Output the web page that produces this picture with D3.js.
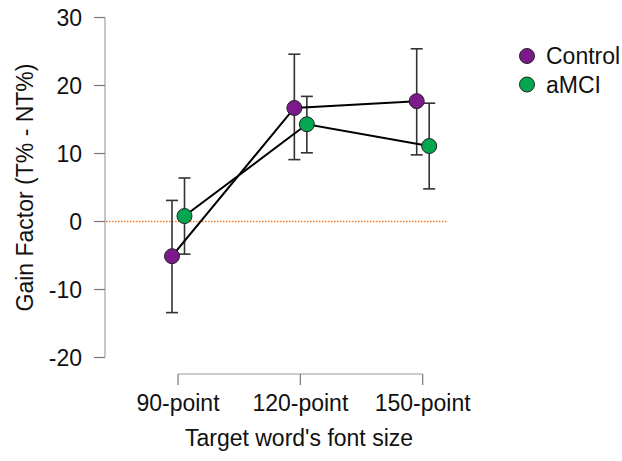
<!DOCTYPE html>
<html>
<head>
<meta charset="utf-8">
<script src="https://cdn.jsdelivr.net/npm/d3@7"></script>
<style>
  body { margin: 0; background: #fff; }
  text { font-family: "Liberation Sans", Arial, sans-serif; fill: #111; }
</style>
</head>
<body>
<div id="chart"></div>
<script>
// Taille du dessin
const width = 622;
const height = 461;

// Données
const categories = ["90-point", "120-point", "150-point"];
const groups = ["Control", "aMCI"];
const controlMean = [-5.1, 16.7, 17.7];
const controlLow = [-13.4, 9.1, 9.8];
const controlHigh = [3.1, 24.6, 25.4];
const amciMean = [0.8, 14.3, 11.1];
const amciLow = [-4.8, 10.1, 4.8];
const amciHigh = [6.4, 18.4, 17.4];
const yTicks = [-20, -10, 0, 10, 20, 30];
const colors = ["#7d1a8b", "#04a650"];

const series = [
  { name: groups[0], mean: controlMean, low: controlLow, high: controlHigh, color: colors[0], dx: -6 },
  { name: groups[1], mean: amciMean, low: amciLow, high: amciHigh, color: colors[1], dx: 6.5 }
];

const fontSize = "23px";

const svg = d3.select("#chart")
  .append("svg")
  .attr("width", width)
  .attr("height", height);

// Echelles
const x = d3.scalePoint()
  .domain(categories)
  .range([178, 422.7]);

const y = d3.scaleLinear()
  .domain([-20, 30])
  .range([357.5, 17.5]);

// Axe Y
const yAxis = svg.append("g").attr("transform", "translate(105,0)");
yAxis.append("line")
  .attr("y1", y(30)).attr("y2", y(-20))
  .attr("stroke", "#b5b5b5").attr("stroke-width", 1.5);
yAxis.selectAll("line.tick")
  .data(yTicks)
  .enter()
  .append("line")
  .attr("class", "tick")
  .attr("x1", -11).attr("x2", 0)
  .attr("y1", d => y(d)).attr("y2", d => y(d))
  .attr("stroke", "#777").attr("stroke-width", 1.2);
yAxis.selectAll("text")
  .data(yTicks)
  .enter()
  .append("text")
  .attr("x", -23)
  .attr("y", d => y(d))
  .attr("text-anchor", "end")
  .attr("dominant-baseline", "central")
  .attr("font-size", fontSize)
  .text(d => d);

svg.append("text")
  .attr("transform", `translate(25,${(y(30) + y(-20)) / 2}) rotate(-90)`)
  .attr("text-anchor", "middle")
  .attr("dominant-baseline", "central")
  .attr("font-size", fontSize)
  .text("Gain Factor (T% - NT%)");

// Axe X
const xAxis = svg.append("g").attr("transform", "translate(0,374)");
xAxis.append("line")
  .attr("x1", x(categories[0])).attr("x2", x(categories[2]))
  .attr("stroke", "#9a9a9a").attr("stroke-width", 1.2);
xAxis.selectAll("line.tick")
  .data(categories)
  .enter()
  .append("line")
  .attr("class", "tick")
  .attr("x1", d => x(d)).attr("x2", d => x(d))
  .attr("y1", 0).attr("y2", 11)
  .attr("stroke", "#777").attr("stroke-width", 1.2);
xAxis.selectAll("text")
  .data(categories)
  .enter()
  .append("text")
  .attr("x", d => x(d))
  .attr("y", 29)
  .attr("text-anchor", "middle")
  .attr("dominant-baseline", "central")
  .attr("font-size", fontSize)
  .text(d => d);

svg.append("text")
  .attr("x", 299)
  .attr("y", 438)
  .attr("text-anchor", "middle")
  .attr("dominant-baseline", "central")
  .attr("font-size", fontSize)
  .text("Target word's font size");

// Ligne de référence à zéro
svg.append("line")
  .attr("x1", 106).attr("x2", 447)
  .attr("y1", y(0)).attr("y2", y(0))
  .attr("stroke", "#f47a20")
  .attr("stroke-width", 1.6)
  .attr("stroke-dasharray", "1.5,1.5");

// Barres d'erreur
series.forEach(s => {
  const g = svg.append("g");
  const idx = d3.range(categories.length);
  g.selectAll("line.err")
    .data(idx)
    .enter()
    .append("line")
    .attr("x1", i => x(categories[i]) + s.dx)
    .attr("x2", i => x(categories[i]) + s.dx)
    .attr("y1", i => y(s.low[i]))
    .attr("y2", i => y(s.high[i]))
    .attr("stroke", "#333").attr("stroke-width", 1.6);
  ["low", "high"].forEach(k => {
    g.selectAll("line.cap-" + k)
      .data(idx)
      .enter()
      .append("line")
      .attr("x1", i => x(categories[i]) + s.dx - 6)
      .attr("x2", i => x(categories[i]) + s.dx + 6)
      .attr("y1", i => y(s[k][i]))
      .attr("y2", i => y(s[k][i]))
      .attr("stroke", "#333").attr("stroke-width", 1.6);
  });
});

// Lignes
const line = d3.line()
  .x(d => d.x)
  .y(d => d.y);

series.forEach(s => {
  const pts = categories.map((c, i) => ({ x: x(c) + s.dx, y: y(s.mean[i]) }));
  svg.append("path")
    .attr("d", line(pts))
    .attr("fill", "none")
    .attr("stroke", "#000")
    .attr("stroke-width", 2);
});

// Points
series.forEach(s => {
  svg.selectAll(null)
    .data(categories)
    .enter()
    .append("circle")
    .attr("cx", (c) => x(c) + s.dx)
    .attr("cy", (c, i) => y(s.mean[i]))
    .attr("r", 7.5)
    .attr("fill", s.color)
    .attr("stroke", "#222")
    .attr("stroke-width", 1);
});

// Légende
const legend = svg.selectAll("g.legend")
  .data(series)
  .enter()
  .append("g")
  .attr("class", "legend")
  .attr("transform", (d, i) => `translate(527,${56 + i * 28.5})`);
legend.append("circle")
  .attr("r", 7.5)
  .attr("fill", d => d.color)
  .attr("stroke", "#222")
  .attr("stroke-width", 1);
legend.append("text")
  .attr("x", 19)
  .attr("dominant-baseline", "central")
  .attr("font-size", fontSize)
  .text(d => d.name);
</script>
</body>
</html>
